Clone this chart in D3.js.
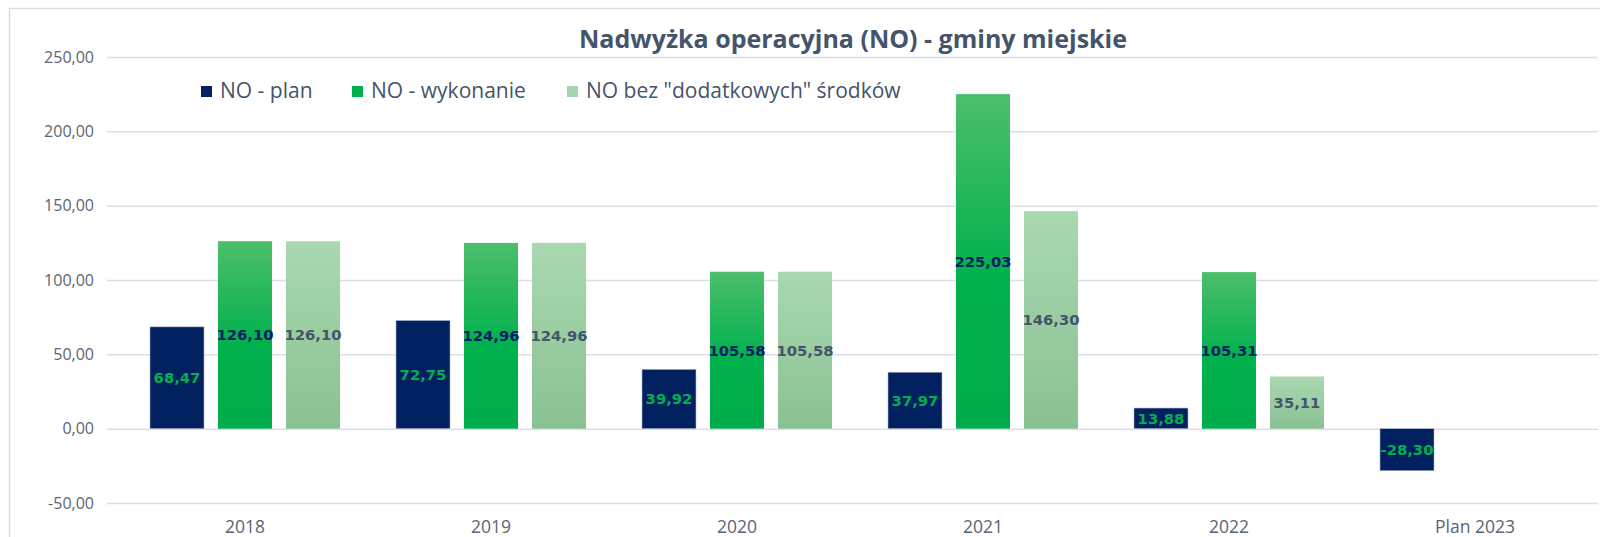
<!DOCTYPE html>
<html>
<head>
<meta charset="utf-8">
<script src="https://cdn.jsdelivr.net/npm/d3@7"></script>
<style>
  body { margin: 0; background: #fff; }
  svg { display: block; }
</style>
</head>
<body>
<svg width="1600" height="537"></svg>
<script>
// ---------------- data ----------------
var categories = ["2018", "2019", "2020", "2021", "2022", "Plan 2023"];
var seriesNames = ["NO - plan", "NO - wykonanie", "NO bez \"dodatkowych\" środków"];
var plan       = [68.47, 72.75, 39.92, 37.97, 13.88, -28.30];
var wykonanie  = [126.10, 124.96, 105.58, 225.03, 105.31, null];
var bezDodatk  = [126.10, 124.96, 105.58, 146.30, 35.11, null];
var yTicks = [-50, 0, 50, 100, 150, 200, 250];

var series = [plan, wykonanie, bezDodatk];
var fills = ["#002060", "url(#gGreen)", "url(#gLight)"];
var legendFill = ["#002060", "#00B050", "#A6D4AE"];
var labelColor = ["#00B050", "#002060", "#44546A"];

var fmt = v => d3.format(".2f")(v).replace(".", ",").replace("\u2212", "-");

var svg = d3.select("svg");

// gradients
var defs = svg.append("defs");
var g1 = defs.append("linearGradient").attr("id", "gGreen")
    .attr("x1", 0).attr("y1", 0).attr("x2", 0).attr("y2", 1);
g1.append("stop").attr("offset", "0%").attr("stop-color", "#4DBE6C");
g1.append("stop").attr("offset", "55%").attr("stop-color", "#00B14D");
g1.append("stop").attr("offset", "100%").attr("stop-color", "#00AC4B");
var g2 = defs.append("linearGradient").attr("id", "gLight")
    .attr("x1", 0).attr("y1", 0).attr("x2", 0).attr("y2", 1);
g2.append("stop").attr("offset", "0%").attr("stop-color", "#AAD8B1");
g2.append("stop").attr("offset", "100%").attr("stop-color", "#89C192");

// chart frame
svg.append("rect")
   .attr("x", 9.5).attr("y", 8.5)
   .attr("width", 1620).attr("height", 560)
   .style("fill", "none")
   .style("stroke", "#D9DDE3")
   .style("stroke-width", 1.5);

// scales
var x = d3.scaleBand()
          .domain(categories)
          .range([122, 1598]);
var xSub = d3.scaleBand()
          .domain(d3.range(3))
          .range([28, 218])
          .paddingInner(14 / 68);
var y = d3.scaleLinear()
          .domain([-50, 250])
          .range([503, 57]);

// grid + y labels
var yAxis = d3.axisLeft(y)
              .tickValues(yTicks)
              .tickSize(-(1598 - 107))
              .tickFormat(fmt);
var ga = svg.append("g")
   .attr("transform", "translate(107,0)")
   .call(yAxis);
ga.select(".domain").remove();
ga.selectAll(".tick line")
  .style("stroke", "#DADFE7")
  .style("stroke-width", 1.5);
ga.selectAll(".tick text")
  .attr("x", -13)
  .style("font-family", "'Open Sans', sans-serif")
  .style("font-size", "16px")
  .style("fill", "#5B6475");

// x labels
var xAxis = d3.axisBottom(x).tickSize(0);
var gx = svg.append("g")
   .attr("transform", "translate(0,503)")
   .call(xAxis);
gx.select(".domain").remove();
gx.selectAll(".tick text")
  .attr("dy", "1.55em")
  .style("font-family", "'Open Sans', sans-serif")
  .style("font-size", "17.5px")
  .style("fill", "#5B6475");

// bars
series.forEach((vals, s) => {
    var pts = categories.map((c, i) => ({c: c, v: vals[i]})).filter(d => d.v != null);
    var sel = svg.append("g").selectAll("g")
       .data(pts)
       .enter().append("g")
       .attr("transform", d => "translate(" + (x(d.c) + xSub(s)) + ",0)");
    sel.append("rect")
       .attr("x", 0)
       .attr("y", d => y(Math.max(0, d.v)))
       .attr("width", xSub.bandwidth())
       .attr("height", d => Math.abs(y(d.v) - y(0)))
       .style("fill", fills[s])
       .style("stroke", s == 0 ? "#AEB8CC" : "none")
       .style("stroke-width", 0.6);
    sel.append("text")
       .attr("x", xSub.bandwidth() / 2)
       .attr("y", d => (y(d.v) + y(0)) / 2)
       .attr("dy", "0.36em")
       .attr("text-anchor", "middle")
       .style("font-family", "'DejaVu Sans', Verdana, sans-serif")
       .style("font-weight", "bold")
       .style("font-size", "14.8px")
       .style("fill", labelColor[s])
       .text(d => fmt(d.v));
});

// title
svg.append("text")
   .attr("x", 853)
   .attr("y", 48)
   .attr("text-anchor", "middle")
   .style("font-family", "'Open Sans', sans-serif")
   .style("font-weight", "bold")
   .style("font-size", "25px")
   .style("fill", "#44546A")
   .text("Nadwyżka operacyjna (NO) - gminy miejskie");

// legend
var legendX = [201, 352, 567];
var lg = svg.selectAll("g.leg")
   .data(seriesNames)
   .enter().append("g")
   .attr("class", "leg")
   .attr("transform", (d, i) => "translate(" + legendX[i] + ",85)");
lg.append("rect")
  .attr("width", 11).attr("height", 11)
  .attr("y", 1)
  .style("fill", (d, i) => legendFill[i]);
lg.append("text")
  .attr("x", 19)
  .attr("y", 13)
  .style("font-family", "'Open Sans', sans-serif")
  .style("font-size", "21px")
  .style("fill", "#44546A")
  .text(d => d);
</script>
</body>
</html>
